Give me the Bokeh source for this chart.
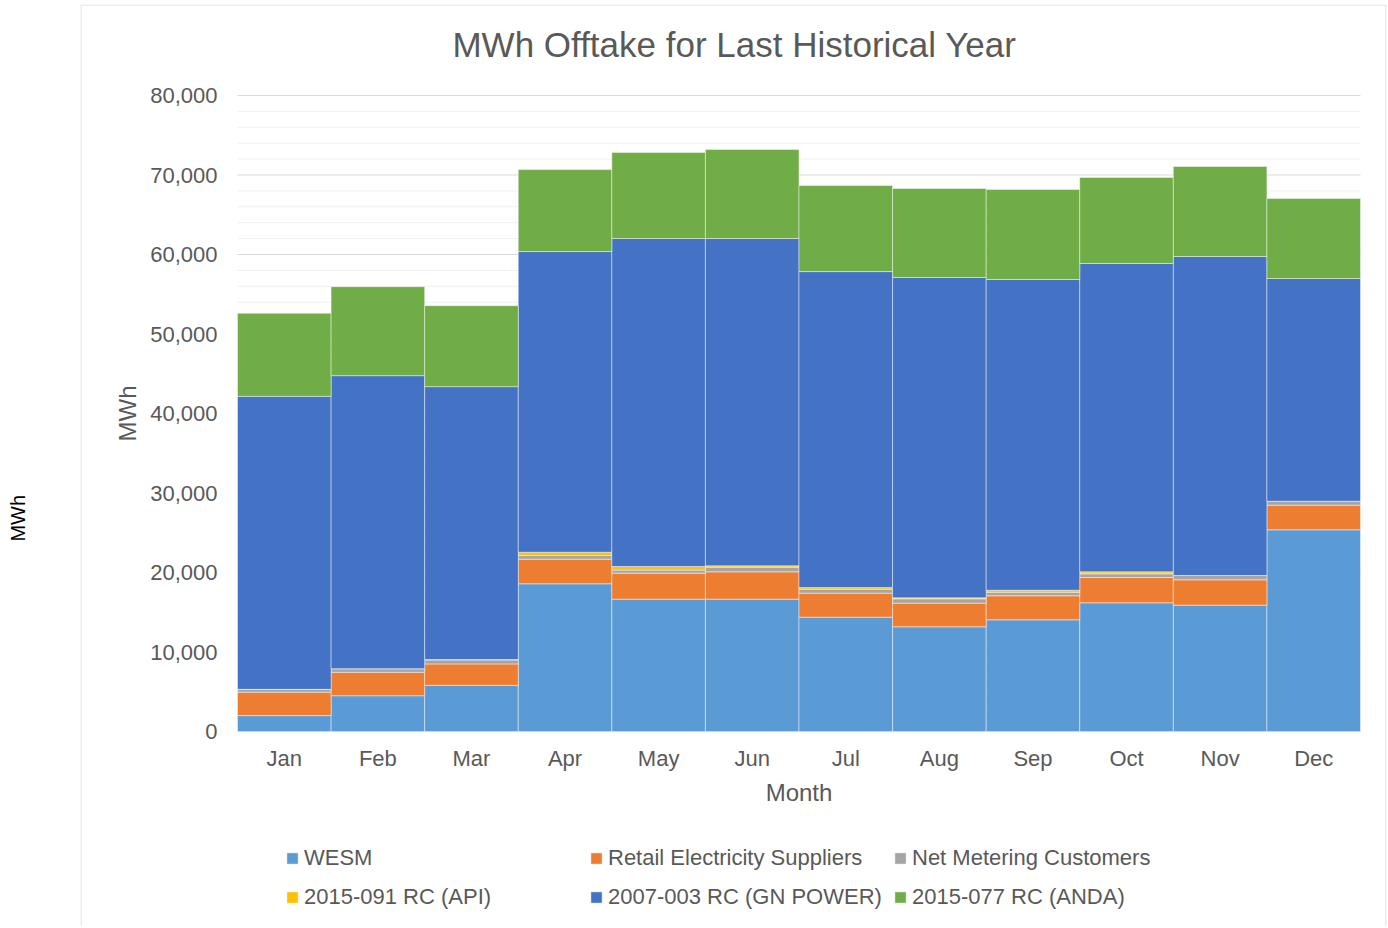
import math
from bokeh.plotting import figure
from bokeh.models import (Range1d, Legend, LegendItem, FixedTicker, ColumnDataSource)
from bokeh.core.properties import value
from bokeh.embed import file_html
from bokeh.resources import INLINE

months = ["Jan", "Feb", "Mar", "Apr", "May", "Jun", "Jul", "Aug", "Sep", "Oct", "Nov", "Dec"]
wesm = [2000, 4500, 5800, 18580, 16650, 16650, 14380, 13170, 14050, 16190, 15890, 25370]
retail = [2950, 2950, 2700, 3100, 3270, 3430, 3020, 2970, 3020, 3180, 3190, 3100]
net_metering = [350, 450, 500, 450, 380, 590, 500, 550, 450, 460, 540, 500]
api = [0, 0, 50, 420, 460, 170, 200, 120, 250, 250, 0, 0]
gn_power = [36860, 36860, 34330, 37820, 41260, 41170, 39750, 40300, 39090, 38790, 40130, 28010]
anda = [10440, 11190, 10180, 10310, 10820, 11200, 10820, 11190, 11320, 10820, 11320, 10060]

y_ticks = [0, 10000, 20000, 30000, 40000, 50000, 60000, 70000, 80000]
y_minor = [v for v in range(0, 80001, 2000) if v % 10000 != 0]

series_keys = ["wesm", "retail", "nm", "api", "gn", "anda"]
series_names = ["WESM", "Retail Electricity Suppliers", "Net Metering Customers",
                "2015-091 RC (API)", "2007-003 RC (GN POWER)", "2015-077 RC (ANDA)"]
colors = ["#5B9BD5", "#ED7D31", "#A5A5A5", "#FFC000", "#4472C4", "#70AD47"]
title_text = "MWh Offtake for Last Historical Year"
x_title = "Month"
y_title = "MWh"

FONT = "Liberation Sans"
TXT = "#595959"

# ---- page geometry (pixels) ----
W, H = 1387, 926
FRAME_L, FRAME_R, FRAME_T, FRAME_B = 80, 1386, 4, H     # chart-area box
PLOT_L, PLOT_R, Y0, Y80 = 237, 1360, 731, 95            # plotting area
n = len(months)
ux = (PLOT_R - PLOT_L) / n            # px per category
uy = (Y0 - Y80) / 80000               # px per MWh


def dx(px):
    return (px - PLOT_L) / ux


def dy(py):
    return (Y0 - py) / uy


xpos = [i + 0.5 for i in range(n)]
source = ColumnDataSource(dict(x=xpos, month=months, wesm=wesm, retail=retail,
                               nm=net_metering, api=api, gn=gn_power, anda=anda))

p = figure(width=W, height=H, x_range=Range1d(dx(FRAME_L), dx(FRAME_R)),
           y_range=Range1d(dy(FRAME_B), dy(FRAME_T)),
           output_backend="svg", toolbar_location=None, x_axis_location=None,
           min_border_left=FRAME_L, min_border_right=W - FRAME_R,
           min_border_top=FRAME_T, min_border_bottom=0)
p.outline_line_color = None
p.grid.grid_line_color = None

# outer axis title lives in the left panel (padded to sit a bit below the centre)
p.yaxis.ticker = FixedTicker(ticks=[])
p.yaxis.axis_line_color = None
p.yaxis.major_tick_out = 0
p.yaxis.major_tick_in = 0
p.yaxis.minor_tick_out = 0
p.yaxis.minor_tick_in = 0
p.yaxis.major_label_standoff = 0
p.yaxis.axis_label = y_title + "\u00a0" * 19
p.yaxis.axis_label_standoff = 52
p.yaxis.axis_label_text_font = FONT
p.yaxis.axis_label_text_font_size = "20px"
p.yaxis.axis_label_text_font_style = "normal"
p.yaxis.axis_label_text_color = "#000000"

# chart-area border (left, top, right)
bx0, bx1 = dx(FRAME_L + 0.5), dx(FRAME_R - 0.5)
by0, by1 = dy(FRAME_B + 5), dy(FRAME_T + 0.5)
p.line(x=[bx0, bx0, bx1, bx1], y=[by0, by1, by1, by0], line_color="#d9d9d9", line_width=1)

# gridlines
p.segment(x0=[0] * len(y_minor), x1=[n] * len(y_minor), y0=y_minor, y1=y_minor,
          line_color="#f0f0f0", line_width=1)
p.segment(x0=[0] * len(y_ticks), x1=[n] * len(y_ticks), y0=y_ticks, y1=y_ticks,
          line_color="#d9d9d9", line_width=1)

renderers = p.vbar_stack(series_keys, x="x", width=1.0, source=source, color=colors,
                         line_color="white", line_width=0.8, line_alpha=0.55)

# tick labels
p.text(x=[0] * len(y_ticks), y=y_ticks, text=[f"{v:,}" for v in y_ticks], x_offset=-20,
       text_align="right", text_baseline="middle", text_font=value(FONT),
       text_font_size="22px", text_color=TXT)
p.text(x=xpos, y=[dy(758)] * n, text=months, text_align="center", text_baseline="middle",
       text_font=value(FONT), text_font_size="22px", text_color=TXT)
# axis titles
p.text(x=[n / 2], y=[dy(792)], text=[x_title], text_align="center", text_baseline="middle",
       text_font=value(FONT), text_font_size="24px", text_color=TXT)
p.text(x=[dx(127)], y=[dy(413)], text=[y_title], angle=math.pi / 2, text_align="center",
       text_baseline="middle", text_font=value(FONT), text_font_size="24px", text_color=TXT)
# chart title
p.text(x=[dx(734)], y=[dy(44)], text=[title_text], text_align="center",
       text_baseline="middle", text_font=value(FONT), text_font_size="35px", text_color=TXT)

items = [LegendItem(label=nm, renderers=[r]) for nm, r in zip(series_names, renderers)]
legend = Legend(items=items, location=(285 - FRAME_L, FRAME_B - 913), ncols=3,
                orientation="horizontal",
                glyph_width=14, glyph_height=14, label_standoff=5, label_width=279,
                label_height=33, spacing=6, padding=0, margin=0,
                label_text_font=FONT, label_text_font_size="22px", label_text_color=TXT,
                border_line_alpha=0, background_fill_alpha=0)
p.add_layout(legend, "center")

open("out.html", "w").write(file_html(p, INLINE))
